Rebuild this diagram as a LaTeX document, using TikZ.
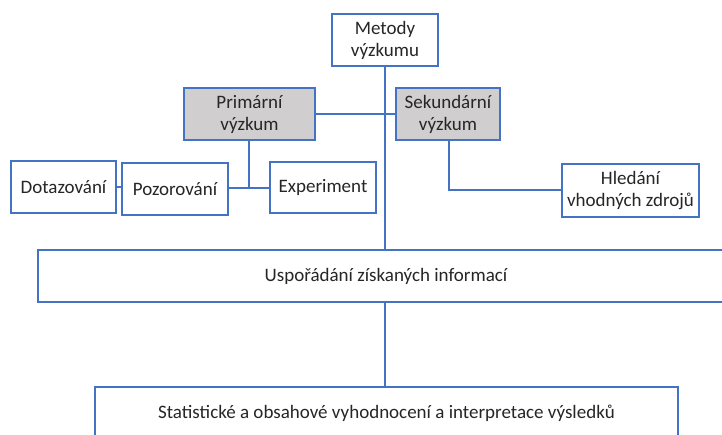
\documentclass[tikz,border=0pt]{standalone}
\usepackage{fontspec}
\setmainfont{Carlito}
\definecolor{bl}{HTML}{4472C4}
\definecolor{gf}{HTML}{D0CECE}
\definecolor{tx}{HTML}{262626}
\begin{document}
\begin{tikzpicture}[x=1pt,y=-1pt,
  box/.style={draw=bl,line width=1.3pt,fill=white,inner sep=0pt,align=center,
    text=tx,font=\fontsize{19}{22}\selectfont},
  gbox/.style={box,fill=gf},
  conn/.style={draw=bl,line width=1.3pt}]
\useasboundingbox (0,0) rectangle (722,434);
\clip (0,0) rectangle (722,434);
\fill[white] (0,0) rectangle (722,434);
\node[box,minimum width=106pt,minimum height=52pt] (met) at (385,40) {Metody\\výzkumu};
\node[gbox,minimum width=131pt,minimum height=52pt] (pri) at (249.5,114) {Primární\\výzkum};
\node[gbox,minimum width=104pt,minimum height=52pt] (sek) at (448,114) {Sekundární\\výzkum};
\node[box,minimum width=105pt,minimum height=52pt] (dot) at (63.5,187) {Dotazování};
\node[box,minimum width=106pt,minimum height=52pt] (poz) at (175,189) {Pozorování};
\node[box,minimum width=106pt,minimum height=51pt] (exp) at (323,187.5) {Experiment};
\node[box,minimum width=137pt,minimum height=53pt] (hle) at (630.5,190.5) {Hledání\\vhodných zdrojů};
\node[box,minimum width=696pt,minimum height=52pt] (usp) at (386,276) {Uspořádání získaných informací};
\node[box,minimum width=583pt,minimum height=52pt] (sta) at (386.5,413) {Statistické a obsahové vyhodnocení a interpretace výsledků};
\coordinate (pj) at (249,188);
\coordinate (sj) at (449,190);
\draw[conn] (met.south) -- (met.south |- usp.north);
\draw[conn] (pri.east) -- (sek.west);
\draw[conn] (pri.south -| pj) -- (pj);
\draw[conn] (poz.east |- pj) -- (exp.west |- pj);
\draw[conn] (dot.east) -- (dot.east -| poz.west);
\draw[conn] (sek.south -| sj) -- (sj) -- (sj -| hle.west);
\draw[conn] (usp.south -| met.south) -- (sta.north -| met.south);
\end{tikzpicture}
\end{document}
